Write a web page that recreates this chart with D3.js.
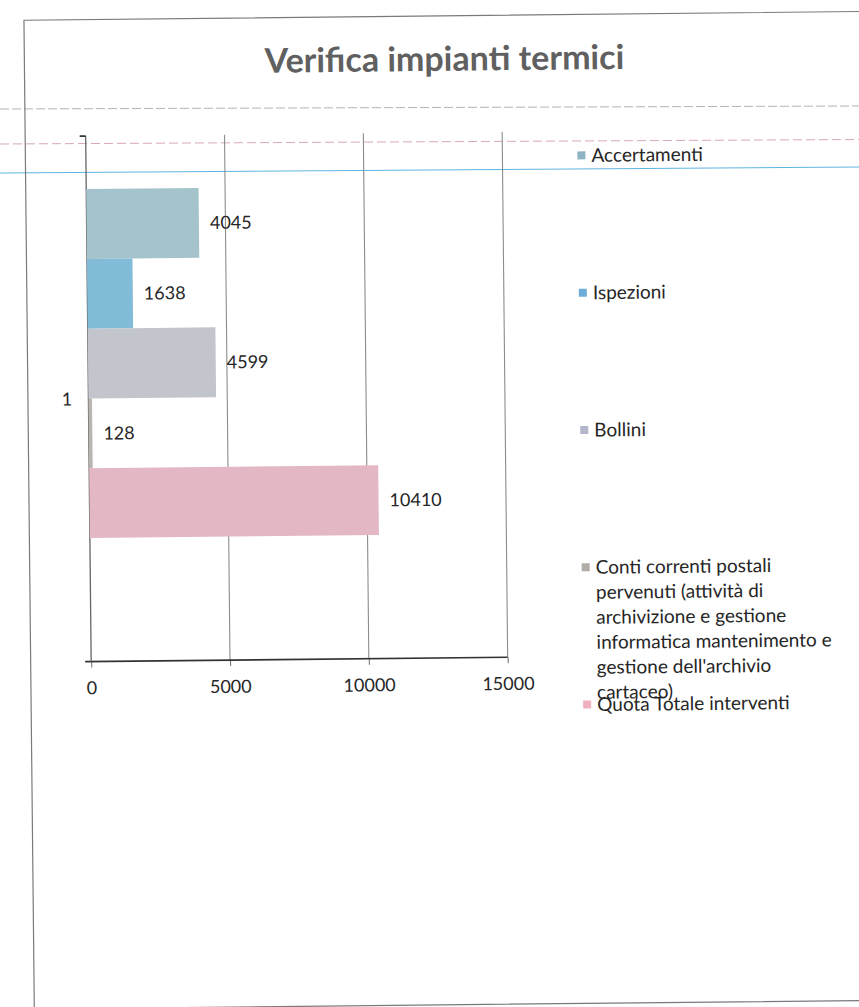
<!DOCTYPE html>
<html>
<head>
<meta charset="utf-8">
<script src="https://cdn.jsdelivr.net/npm/d3@7"></script>
<style>
  html, body { margin: 0; padding: 0; background: #fff; overflow: hidden; }
  svg { display: block; }
  text { font-family: Lato, "Open Sans", sans-serif; }
</style>
</head>
<body>
<svg id="chart" width="859" height="1007"></svg>
<script>
// ---- data ----
const chartTitle = "Verifica impianti termici";
const categories = ["1"];
const seriesNames = [
  "Accertamenti",
  "Ispezioni",
  "Bollini",
  "Conti correnti postali pervenuti (attività di archivizione e gestione informatica mantenimento e gestione dell'archivio cartaceo)",
  "Quota Totale interventi"
];
const seriesValues = [4045, 1638, 4599, 128, 10410];
const xTickValues = [0, 5000, 10000, 15000];
const xDomain = [0, 15000];

// ---- styles ----
const barFill = ["#a4c3cb", "#82bcd8", "#c3c5cd", "#b9b5b1", "#e3b7c4"];
const keyFill = ["#8fb3c3", "#6caed8", "#b3b7cb", "#b3ada7", "#eeb0c0"];
const textColor = "#262626";

const svg = d3.select("#chart");

// ruled lines of the paper
const rules = [
  { y1: 109, y2: 106, stroke: "#b4b4b4", dash: "9 3" },
  { y1: 144, y2: 139.5, stroke: "#d8a9b5", dash: "9 4" },
  { y1: 173, y2: 167, stroke: "#5db5e2", dash: null }
];
svg.selectAll("line.rule").data(rules).join("line")
  .attr("class", "rule")
  .attr("x1", 0).attr("x2", 859)
  .attr("y1", d => d.y1).attr("y2", d => d.y2)
  .attr("stroke", d => d.stroke)
  .attr("stroke-width", 1)
  .attr("stroke-dasharray", d => d.dash);

// the printed chart sits slightly tilted on the sheet
const sheet = svg.append("g").attr("transform", "rotate(-0.6,430,500)");

// chart frame
sheet.append("rect")
  .attr("x", 29).attr("y", 16)
  .attr("width", 900).attr("height", 989)
  .attr("fill", "none")
  .attr("stroke", "#7a7a7a")
  .attr("stroke-width", 1.2);

// title
sheet.append("text")
  .attr("x", 449).attr("y", 71)
  .attr("text-anchor", "middle")
  .attr("font-size", 34)
  .attr("font-weight", 700)
  .attr("fill", "#606060")
  .text(chartTitle);

// ---- scales ----
const plotTop = 132.5, plotBottom = 658;
const x = d3.scaleLinear().domain(xDomain).range([89.5, 506]);
const yCat = d3.scaleBand().domain(categories).range([plotTop, plotBottom]);
const ySer = d3.scaleBand().domain(seriesNames).range([53, 402]);

// vertical gridlines
sheet.selectAll("line.grid").data(xTickValues.filter(d => d !== 0)).join("line")
  .attr("class", "grid")
  .attr("x1", d => x(d)).attr("x2", d => x(d))
  .attr("y1", plotTop).attr("y2", plotBottom)
  .attr("stroke", "#8c8c8c")
  .attr("stroke-width", 1.1);

// x axis
const xAxis = sheet.append("g")
  .attr("transform", `translate(0,${plotBottom})`)
  .call(d3.axisBottom(x).tickValues(xTickValues).tickSize(6).tickPadding(14).tickFormat(d3.format("d")));
xAxis.select(".domain").remove();
xAxis.selectAll(".tick line").attr("stroke", "#777").attr("stroke-width", 1.1);
xAxis.selectAll(".tick text")
  .attr("font-family", "Lato, 'Open Sans', sans-serif")
  .attr("font-size", 18)
  .attr("fill", textColor);
xAxis.append("line")
  .attr("x1", x(0) - 6).attr("x2", x(xDomain[1]))
  .attr("y1", 0).attr("y2", 0)
  .attr("stroke", "#333").attr("stroke-width", 1.6);

// category axis
const catAxis = sheet.append("g");
catAxis.append("line")
  .attr("x1", x(0)).attr("x2", x(0))
  .attr("y1", plotTop).attr("y2", plotBottom)
  .attr("stroke", "#666").attr("stroke-width", 1.3);
catAxis.append("line")
  .attr("x1", x(0) - 6).attr("x2", x(0))
  .attr("y1", plotTop).attr("y2", plotTop)
  .attr("stroke", "#333").attr("stroke-width", 1.6);
catAxis.selectAll("text").data(categories).join("text")
  .attr("x", 68)
  .attr("y", d => yCat(d) + yCat.bandwidth() / 2)
  .attr("dy", "0.35em")
  .attr("text-anchor", "middle")
  .attr("font-size", 18)
  .attr("fill", textColor)
  .text(d => d);

// bars
const rows = seriesNames.map((name, i) => ({ name, value: seriesValues[i], i, cat: categories[0] }));
sheet.selectAll("rect.bar").data(rows).join("rect")
  .attr("class", "bar")
  .attr("x", x(0))
  .attr("y", d => yCat(d.cat) + ySer(d.name))
  .attr("width", d => x(d.value) - x(0))
  .attr("height", ySer.bandwidth())
  .attr("fill", d => barFill[d.i]);

// value labels
sheet.selectAll("text.val").data(rows).join("text")
  .attr("class", "val")
  .attr("x", d => x(d.value) + 11)
  .attr("y", d => yCat(d.cat) + ySer(d.name) + ySer.bandwidth() / 2)
  .attr("dy", "0.35em")
  .attr("font-size", 18)
  .attr("fill", textColor)
  .text(d => d.value);

// legend
const legend = sheet.append("g");
const keyTop = 157, keyStep = 137.3, keyLine = 25, keyWrap = 252;
rows.forEach(d => {
  const cy = keyTop + d.i * keyStep;
  legend.append("rect")
    .attr("x", 581).attr("y", cy - 4)
    .attr("width", 8).attr("height", 8)
    .attr("fill", keyFill[d.i]);
  const t = legend.append("text")
    .attr("x", 595).attr("y", cy)
    .attr("font-size", 19)
    .attr("fill", textColor);
  // wrap long names onto several lines
  const words = d.name.split(" ");
  let line = [], lineNo = 0;
  let tspan = t.append("tspan").attr("x", 595).attr("y", cy).attr("dy", "0.35em");
  words.forEach(w => {
    line.push(w);
    tspan.text(line.join(" "));
    if (tspan.node().getComputedTextLength() > keyWrap && line.length > 1) {
      line.pop();
      tspan.text(line.join(" "));
      line = [w];
      lineNo++;
      tspan = t.append("tspan").attr("x", 595).attr("y", cy + lineNo * keyLine).attr("dy", "0.35em").text(w);
    }
  });
});
</script>
</body>
</html>
